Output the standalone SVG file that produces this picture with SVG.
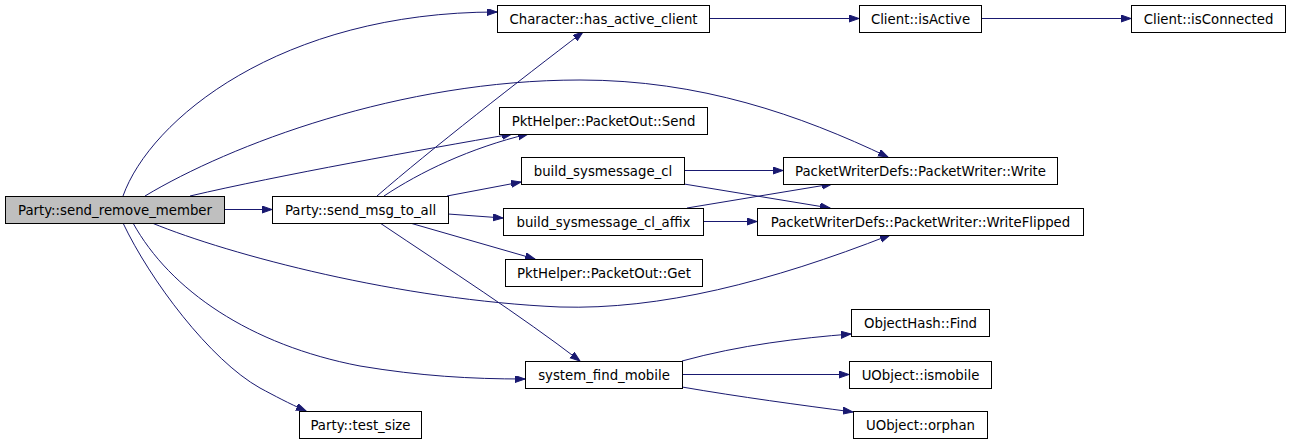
<svg xmlns="http://www.w3.org/2000/svg" width="1291" height="443" viewBox="0 0 1291 443">
<style>
.n rect{fill:#ffffff;stroke:#000000;stroke-width:1}
.n.root rect{fill:#bfbfbf}
.n text{font-family:"DejaVu Sans",sans-serif;font-size:13.3px;fill:#000000;text-anchor:middle}
#edges path{fill:none;stroke:#191970;stroke-width:1;marker-end:url(#ah)}
</style>
<defs>
<marker id="ah" markerUnits="userSpaceOnUse" markerWidth="11" markerHeight="8" refX="10" refY="3.5" orient="auto">
<path d="M0,0 L10,3.5 L0,7 z" fill="#191970" stroke="#191970" stroke-width="1"/>
</marker>
</defs>
<rect width="1291" height="443" fill="#ffffff"/>
<g id="edges">
<path d="M224,209.5 L272,209.5"/>
<path d="M123,196 C150,120 280,12 497,12"/>
<path d="M145,196 C230,145 400,80 580,80 C700,80 800,115 888,157"/>
<path d="M190,196 C280,175 420,150 512,134"/>
<path d="M152,223 C230,255 400,300 560,307 C660,310 770,282 890,235"/>
<path d="M133,223 C170,290 250,345 360,366 C420,376 470,379 525,379"/>
<path d="M123,223 C150,280 210,360 260,388 C275,396 288,403 306,411"/>
<path d="M377,196 C430,150 520,80 583,32"/>
<path d="M384,196 C420,172 470,148 528,134"/>
<path d="M447,196 L521,182"/>
<path d="M448,214 L503,218"/>
<path d="M410,223 L535,259"/>
<path d="M380,223 C450,270 520,315 580,361"/>
<path d="M684,170.5 L783,170.5"/>
<path d="M684,184 L830,208"/>
<path d="M687,208 L832,184"/>
<path d="M703,221.5 L757,221.5"/>
<path d="M709,18.5 L859,18.5"/>
<path d="M981,18.5 L1131,18.5"/>
<path d="M682,361 C740,345 800,338 851,334"/>
<path d="M682,374.5 L849,374.5"/>
<path d="M682,387 C740,397 800,405 853,412"/>
</g>
<g id="send_remove_member" class="n root"><rect x="5.5" y="196.5" width="219" height="27"/><text x="115" y="214.5">Party::send_remove_member</text></g>
<g id="send_msg_to_all" class="n"><rect x="272.5" y="196.5" width="176" height="27"/><text x="360.5" y="214.5">Party::send_msg_to_all</text></g>
<g id="has_active_client" class="n"><rect x="497.5" y="5.5" width="212" height="27"/><text x="603.5" y="23.5">Character::has_active_client</text></g>
<g id="isActive" class="n"><rect x="859.5" y="5.5" width="122" height="27"/><text x="920.5" y="23.5">Client::isActive</text></g>
<g id="isConnected" class="n"><rect x="1131.5" y="5.5" width="154" height="27"/><text x="1208.5" y="23.5">Client::isConnected</text></g>
<g id="send" class="n"><rect x="499.5" y="107.5" width="208" height="27"/><text x="603.5" y="125.5">PktHelper::PacketOut::Send</text></g>
<g id="build_sysmessage_cl" class="n"><rect x="521.5" y="157.5" width="163" height="27"/><text x="603" y="175.5">build_sysmessage_cl</text></g>
<g id="build_sysmessage_cl_affix" class="n"><rect x="503.5" y="208.5" width="200" height="27"/><text x="603.5" y="226.5">build_sysmessage_cl_affix</text></g>
<g id="get" class="n"><rect x="505.5" y="259.5" width="197" height="27"/><text x="604" y="277.5">PktHelper::PacketOut::Get</text></g>
<g id="write" class="n"><rect x="783.5" y="157.5" width="274" height="27"/><text x="920.5" y="175.5">PacketWriterDefs::PacketWriter::Write</text></g>
<g id="writeflipped" class="n"><rect x="757.5" y="208.5" width="326" height="27"/><text x="920.5" y="226.5">PacketWriterDefs::PacketWriter::WriteFlipped</text></g>
<g id="system_find_mobile" class="n"><rect x="525.5" y="361.5" width="157" height="27"/><text x="604" y="379.5">system_find_mobile</text></g>
<g id="find" class="n"><rect x="851.5" y="309.5" width="138" height="27"/><text x="920.5" y="327.5">ObjectHash::Find</text></g>
<g id="ismobile" class="n"><rect x="849.5" y="361.5" width="142" height="27"/><text x="920.5" y="379.5">UObject::ismobile</text></g>
<g id="orphan" class="n"><rect x="853.5" y="411.5" width="134" height="27"/><text x="920.5" y="429.5">UObject::orphan</text></g>
<g id="test_size" class="n"><rect x="299.5" y="411.5" width="122" height="27"/><text x="360.5" y="429.5">Party::test_size</text></g>
</svg>
